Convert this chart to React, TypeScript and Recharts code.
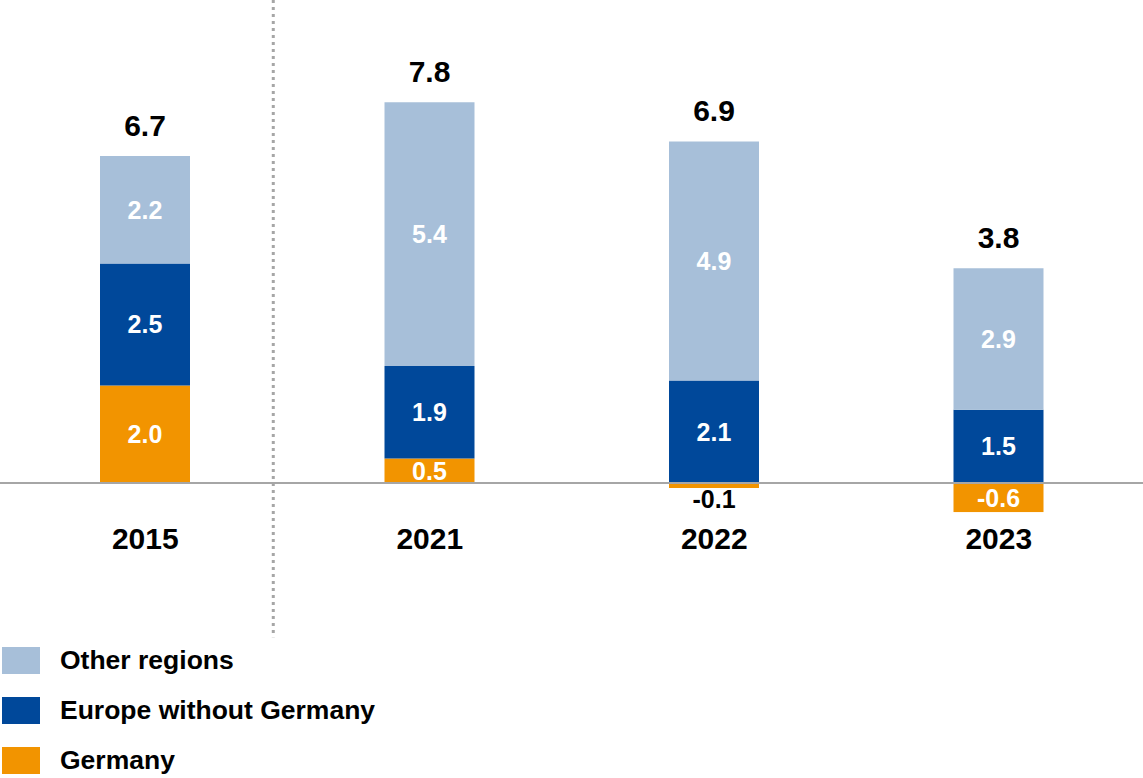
import React from "react";
import {
  BarChart,
  Bar,
  XAxis,
  YAxis,
  LabelList,
  ReferenceLine,
} from "recharts";

const categories = ["2015", "2021", "2022", "2023"];
const germany = [2.0, 0.5, -0.1, -0.6];
const europe = [2.5, 1.9, 2.1, 1.5];
const other = [2.2, 5.4, 4.9, 2.9];
const totals = [6.7, 7.8, 6.9, 3.8];

const series = [
  { key: "other", name: "Other regions", color: "#a7bfd9" },
  { key: "europe", name: "Europe without Germany", color: "#00489a" },
  { key: "germany", name: "Germany", color: "#f29400" },
];

const FONT = '"Liberation Sans", Arial, Helvetica, sans-serif';

const data = categories.map((year, i) => ({
  year,
  germany: germany[i],
  europe: europe[i],
  other: other[i],
  total: totals[i],
}));

// white value in the middle of a segment, or black below it if the segment is too thin
const SegmentLabel = (props: any) => {
  const { x, y, width, height, value } = props;
  const h = Math.abs(height);
  const cx = x + width / 2;
  if (h < 14) {
    const bottom = Math.max(y, y + height);
    return (
      <text
        x={cx}
        y={bottom + 20}
        textAnchor="middle"
        fontSize={25}
        fontWeight={700}
        fontFamily={FONT}
        fill="#000"
      >
        {Number(value).toFixed(1)}
      </text>
    );
  }
  return (
    <text
      x={cx}
      y={y + height / 2}
      textAnchor="middle"
      dominantBaseline="central"
      fontSize={25}
      fontWeight={700}
      fontFamily={FONT}
      fill="#fff"
    >
      {Number(value).toFixed(1)}
    </text>
  );
};

const TotalLabel = (props: any) => {
  const { x, y, width, value } = props;
  return (
    <text
      x={x + width / 2}
      y={y - 20}
      textAnchor="middle"
      fontSize={30}
      fontWeight={700}
      fontFamily={FONT}
      fill="#000"
    >
      {Number(value).toFixed(1)}
    </text>
  );
};

export default function App() {
  return (
    <div
      style={{
        position: "absolute",
        left: 0,
        top: 0,
        width: 1143,
        height: 778,
        background: "#fff",
        fontFamily: FONT,
      }}
    >
      <BarChart
        width={1143}
        height={778}
        data={data}
        stackOffset="sign"
        margin={{ top: 43.8, right: 2, left: 3, bottom: 205.7 }}
      >
        <XAxis
          dataKey="year"
          axisLine={false}
          tickLine={false}
          tickSize={0}
          tickMargin={15}
          height={60}
          interval={0}
          tick={{ fontSize: 30, fontWeight: 700, fill: "#000", fontFamily: FONT }}
        />
        <XAxis xAxisId="sep" type="number" domain={[0, 4]} hide allowDataOverflow />
        <YAxis hide domain={[-0.6, 9]} allowDataOverflow />
        <Bar dataKey="germany" stackId="a" fill="#f29400" barSize={90} isAnimationActive={false}>
          <LabelList dataKey="germany" content={SegmentLabel} />
        </Bar>
        <Bar dataKey="europe" stackId="a" fill="#00489a" barSize={90} isAnimationActive={false}>
          <LabelList dataKey="europe" content={SegmentLabel} />
        </Bar>
        <Bar dataKey="other" stackId="a" fill="#a7bfd9" barSize={90} isAnimationActive={false}>
          <LabelList dataKey="other" content={SegmentLabel} />
          <LabelList dataKey="total" content={TotalLabel} />
        </Bar>
        <ReferenceLine
          xAxisId="sep"
          segment={[
            { x: -0.02, y: 0 },
            { x: 4.02, y: 0 },
          ]}
          stroke="#a6a6a6"
          strokeWidth={2}
          ifOverflow="visible"
        />
        <ReferenceLine
          xAxisId="sep"
          segment={[
            { x: 0.7125, y: 9.9 },
            { x: 0.7125, y: -3.16 },
          ]}
          stroke="#a6a6a6"
          strokeWidth={3}
          strokeDasharray="3 4"
          ifOverflow="visible"
        />
      </BarChart>
      <div
        style={{
          position: "absolute",
          left: 2,
          top: 647,
          display: "flex",
          flexDirection: "column",
          gap: 23,
        }}
      >
        {series.map((s) => (
          <div key={s.key} style={{ display: "flex", alignItems: "center", height: 27 }}>
            <div style={{ width: 38, height: 27, background: s.color }} />
            <span
              style={{
                marginLeft: 20,
                fontSize: 26.5,
                fontWeight: 700,
                color: "#000",
                lineHeight: "27px",
              }}
            >
              {s.name}
            </span>
          </div>
        ))}
      </div>
    </div>
  );
}
